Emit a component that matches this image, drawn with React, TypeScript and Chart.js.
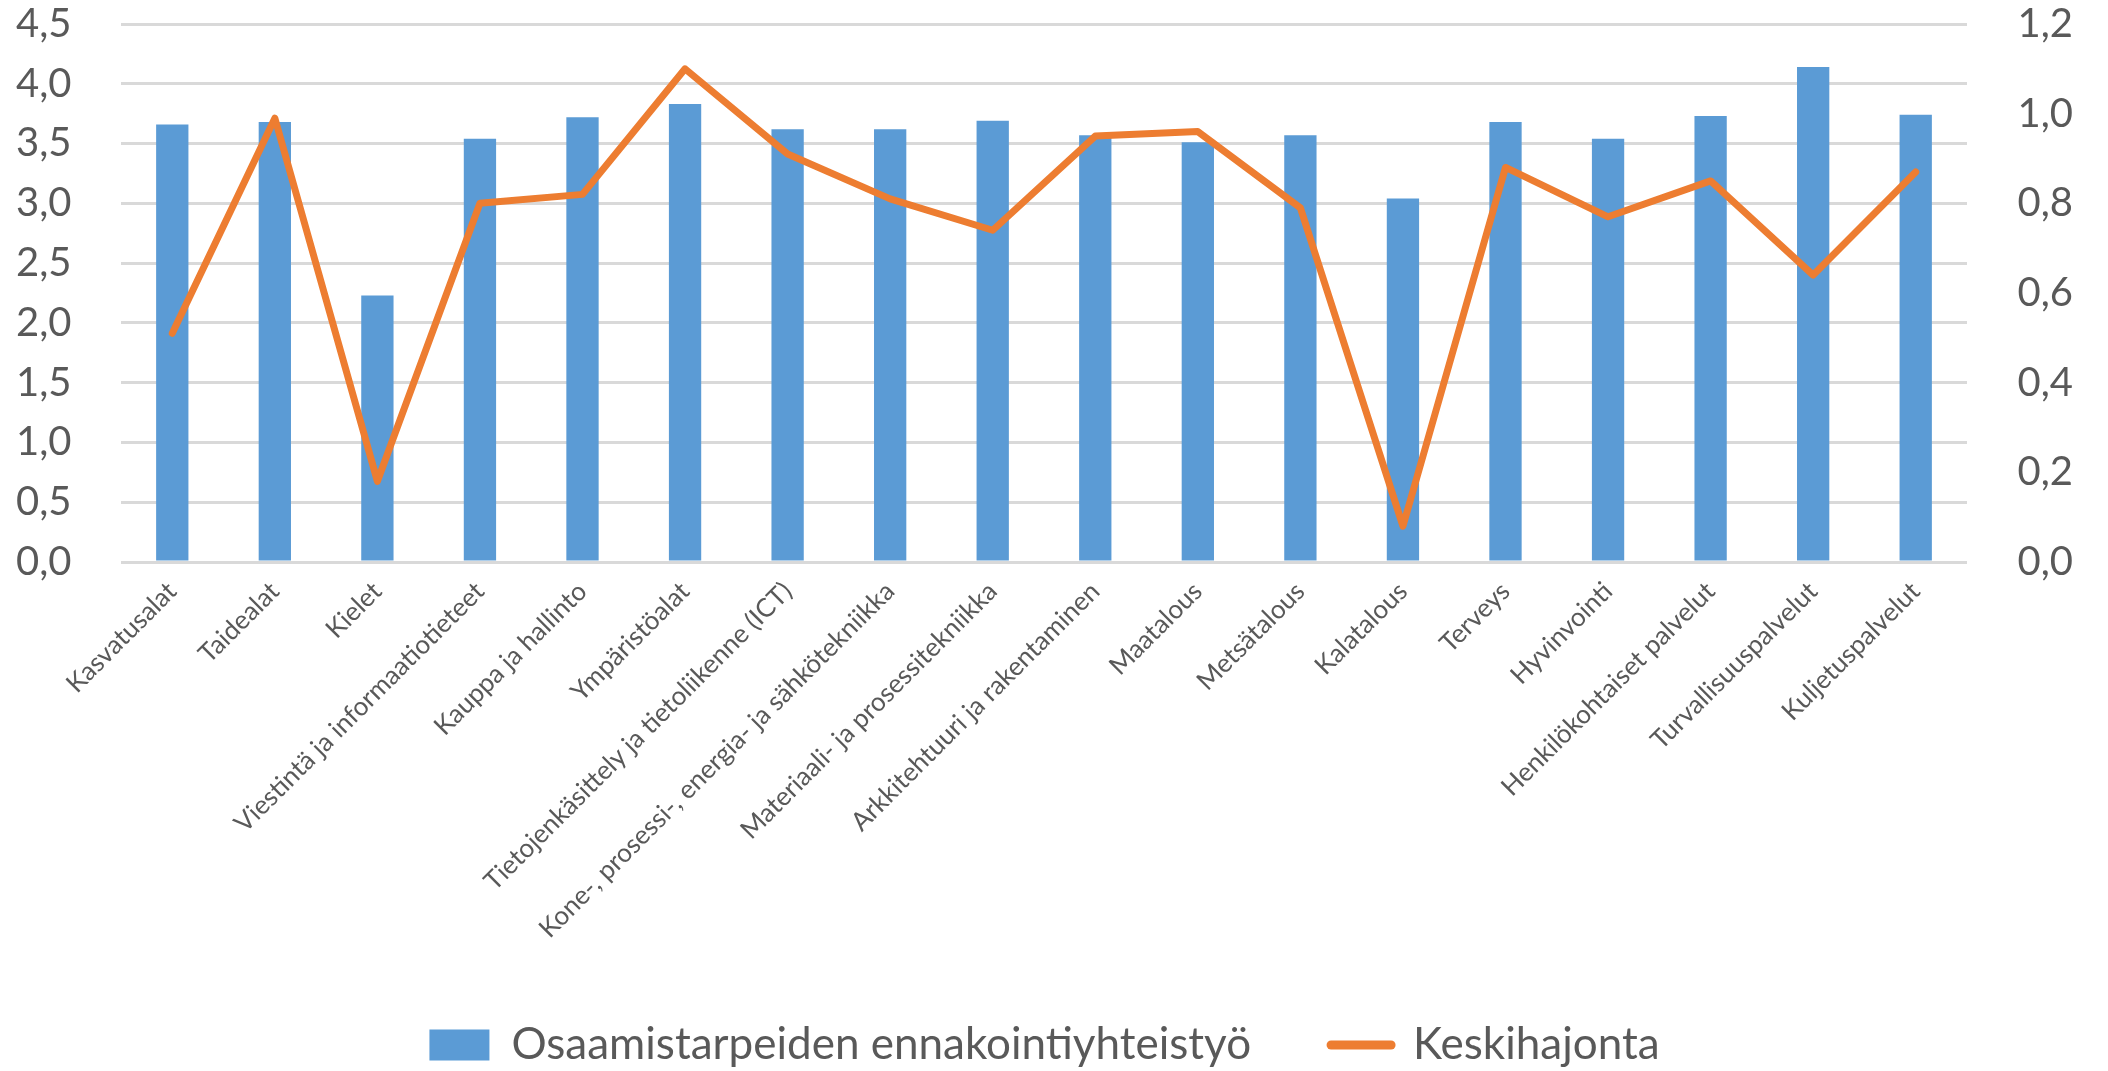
import React, { useEffect, useRef } from "react";
import { Chart, registerables } from "chart.js";

Chart.register(...registerables);

const categories = [
  "Kasvatusalat",
  "Taidealat",
  "Kielet",
  "Viestintä ja informaatiotieteet",
  "Kauppa ja hallinto",
  "Ympäristöalat",
  "Tietojenkäsittely ja tietoliikenne (ICT)",
  "Kone-, prosessi-, energia- ja sähkötekniikka",
  "Materiaali- ja prosessitekniikka",
  "Arkkitehtuuri ja rakentaminen",
  "Maatalous",
  "Metsätalous",
  "Kalatalous",
  "Terveys",
  "Hyvinvointi",
  "Henkilökohtaiset palvelut",
  "Turvallisuuspalvelut",
  "Kuljetuspalvelut",
];

const barLabel = "Osaamistarpeiden ennakointiyhteistyö";
const lineLabel = "Keskihajonta";

const barValues = [3.66, 3.68, 2.23, 3.54, 3.72, 3.83, 3.62, 3.62, 3.69, 3.57, 3.51, 3.57, 3.04, 3.68, 3.54, 3.73, 4.14, 3.74];
const lineValues = [0.51, 0.99, 0.18, 0.8, 0.82, 1.1, 0.91, 0.81, 0.74, 0.95, 0.96, 0.79, 0.08, 0.88, 0.77, 0.85, 0.64, 0.87];

const leftAxis = { min: 0, max: 4.5, step: 0.5 };
const rightAxis = { min: 0, max: 1.2, step: 0.2 };

const BAR = "#5B9BD5";
const LINE = "#ED7D31";
const TEXT = "#595959";
const GRID = "#D9D9D9";
const FONT = "Lato";

const fmt = (v: number | string) => Number(v).toFixed(1).replace(".", ",");

export default function App() {
  const ref = useRef<HTMLCanvasElement | null>(null);

  useEffect(() => {
    document.body.style.margin = "0";
    const canvas = ref.current;
    if (!canvas) return;
    const chart = new Chart(canvas, {
      type: "bar",
      data: {
        labels: categories,
        datasets: [
          {
            type: "bar",
            label: barLabel,
            data: barValues,
            backgroundColor: BAR,
            borderWidth: 0,
            yAxisID: "y",
            order: 1,
            categoryPercentage: 1,
            barPercentage: 0.315,
          },
          {
            type: "line",
            label: lineLabel,
            data: lineValues,
            borderColor: LINE,
            backgroundColor: LINE,
            borderWidth: 7,
            pointRadius: 0,
            borderJoinStyle: "round",
            borderCapStyle: "round",
            tension: 0,
            yAxisID: "y1",
            order: 0,
          },
        ],
      },
      options: {
        responsive: false,
        devicePixelRatio: 1,
        animation: false,
        layout: { padding: { top: 0, left: 16, right: 35, bottom: -6 } },
        plugins: {
          tooltip: { enabled: false },
          legend: {
            position: "bottom",
            labels: {
              usePointStyle: true,
              pointStyleWidth: 60,
              boxHeight: 31,
              padding: 80,
              color: TEXT,
              font: { family: FONT, size: 44 },
              generateLabels: () => [
                {
                  text: barLabel,
                  fillStyle: BAR,
                  strokeStyle: BAR,
                  lineWidth: 0,
                  pointStyle: "rect",
                  datasetIndex: 0,
                  hidden: false,
                  fontColor: TEXT,
                } as any,
                {
                  text: lineLabel,
                  fillStyle: LINE,
                  strokeStyle: LINE,
                  lineWidth: 9,
                  lineCap: "round",
                  pointStyle: "line",
                  datasetIndex: 1,
                  hidden: false,
                  fontColor: TEXT,
                } as any,
              ],
            },
          },
        },
        scales: {
          x: {
            grid: { display: false, drawTicks: false },
            border: { display: false },
            ticks: {
              autoSkip: false,
              maxRotation: 45,
              minRotation: 45,
              padding: 14,
              color: TEXT,
              font: { family: FONT, size: 26 },
            },
            afterFit: (s: any) => {
              s.height = 381;
            },
          },
          y: {
            position: "left",
            min: leftAxis.min,
            max: leftAxis.max,
            grid: { color: GRID, lineWidth: 3, drawTicks: false },
            border: { display: false },
            ticks: {
              stepSize: leftAxis.step,
              padding: 0,
              crossAlign: "far",
              color: TEXT,
              font: { family: FONT, size: 40 },
              callback: (v: any) => fmt(v),
            },
            afterFit: (s: any) => {
              s.width = 105;
            },
          },
          y1: {
            position: "right",
            min: rightAxis.min,
            max: rightAxis.max,
            grid: { display: false, drawTicks: false },
            border: { display: false },
            ticks: {
              stepSize: rightAxis.step,
              padding: 0,
              crossAlign: "far",
              color: TEXT,
              font: { family: FONT, size: 40 },
              callback: (v: any) => fmt(v),
            },
            afterFit: (s: any) => {
              s.width = 106;
            },
          },
        },
      },
    });
    return () => chart.destroy();
  }, []);

  return (
    <div style={{ position: "absolute", left: 0, top: 0, width: 2108, height: 1071 }}>
      <canvas ref={ref} width={2108} height={1071} />
    </div>
  );
}
